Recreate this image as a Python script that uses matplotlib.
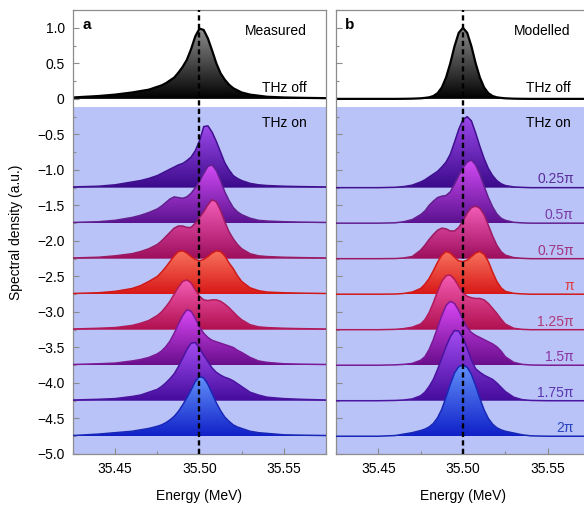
import numpy as np
import matplotlib
matplotlib.use("Agg")
import matplotlib.pyplot as plt
from matplotlib.colors import LinearSegmentedColormap
from matplotlib.patches import Polygon
from matplotlib.ticker import MultipleLocator

plt.rcParams['font.family'] = ['Liberation Sans', 'DejaVu Sans']

# ---------------- data ----------------
energy = [35.425, 35.44, 35.45, 35.46, 35.465, 35.47,
          35.475, 35.4775, 35.48, 35.4825, 35.485, 35.4875, 35.49, 35.4925, 35.495, 35.4975,
          35.50, 35.5025, 35.505, 35.5075, 35.51, 35.5125, 35.515, 35.5175, 35.52, 35.5225, 35.525,
          35.53, 35.535, 35.54, 35.55, 35.56, 35.575]

phase_labels = ['0.25π', '0.5π', '0.75π', 'π', '1.25π', '1.5π', '1.75π', '2π']
offsets_on = [-1.25, -1.75, -2.25, -2.75, -3.25, -3.75, -4.25, -4.75]

measured_off = [0.02, 0.04, 0.06, 0.09, 0.11, 0.13,
                0.17, 0.19, 0.22, 0.26, 0.30, 0.37, 0.45, 0.55, 0.70, 0.88,
                0.99, 0.97, 0.85, 0.68, 0.50, 0.36, 0.27, 0.20, 0.15, 0.12, 0.09,
                0.06, 0.045, 0.03, 0.02, 0.015, 0.01]
measured_025 = [0.01, 0.02, 0.04, 0.08, 0.10, 0.13,
                0.17, 0.20, 0.23, 0.26, 0.29, 0.32, 0.34, 0.38, 0.43, 0.52,
                0.66, 0.86, 0.87, 0.78, 0.65, 0.50, 0.35, 0.25, 0.17, 0.13, 0.10,
                0.06, 0.04, 0.03, 0.02, 0.015, 0.01]
measured_050 = [0.01, 0.02, 0.04, 0.08, 0.11, 0.15,
                0.20, 0.24, 0.29, 0.34, 0.37, 0.36, 0.35, 0.37, 0.42, 0.50,
                0.59, 0.70, 0.80, 0.82, 0.74, 0.60, 0.44, 0.32, 0.22, 0.16, 0.12,
                0.07, 0.04, 0.03, 0.02, 0.015, 0.01]
measured_075 = [0.01, 0.02, 0.04, 0.07, 0.10, 0.14,
                0.20, 0.25, 0.31, 0.37, 0.43, 0.46, 0.46, 0.44, 0.44, 0.50,
                0.58, 0.66, 0.76, 0.83, 0.80, 0.68, 0.52, 0.38, 0.28, 0.20, 0.14,
                0.07, 0.04, 0.03, 0.02, 0.015, 0.01]
measured_100 = [0.01, 0.02, 0.04, 0.08, 0.12, 0.18,
                0.25, 0.31, 0.38, 0.46, 0.54, 0.60, 0.61, 0.58, 0.53, 0.49,
                0.47, 0.49, 0.53, 0.58, 0.61, 0.60, 0.54, 0.44, 0.36, 0.26, 0.18,
                0.09, 0.05, 0.03, 0.02, 0.015, 0.01]
measured_125 = [0.01, 0.02, 0.03, 0.06, 0.09, 0.13,
                0.20, 0.25, 0.32, 0.40, 0.50, 0.60, 0.68, 0.70, 0.66, 0.56,
                0.47, 0.42, 0.41, 0.42, 0.42, 0.40, 0.36, 0.31, 0.25, 0.19, 0.14,
                0.07, 0.04, 0.03, 0.02, 0.015, 0.01]
measured_150 = [0.01, 0.02, 0.03, 0.06, 0.08, 0.11,
                0.16, 0.20, 0.26, 0.34, 0.45, 0.58, 0.70, 0.78, 0.76, 0.66,
                0.54, 0.45, 0.39, 0.35, 0.33, 0.31, 0.29, 0.27, 0.25, 0.21, 0.18,
                0.11, 0.06, 0.04, 0.02, 0.015, 0.01]
measured_175 = [0.01, 0.02, 0.03, 0.06, 0.08, 0.12,
                0.16, 0.20, 0.25, 0.31, 0.38, 0.48, 0.60, 0.72, 0.81, 0.82,
                0.74, 0.64, 0.55, 0.46, 0.40, 0.36, 0.33, 0.31, 0.28, 0.24, 0.20,
                0.12, 0.08, 0.05, 0.03, 0.02, 0.01]
measured_200 = [0.01, 0.03, 0.05, 0.07, 0.09, 0.11,
                0.14, 0.16, 0.19, 0.23, 0.28, 0.35, 0.44, 0.54, 0.65, 0.77,
                0.84, 0.82, 0.73, 0.60, 0.47, 0.36, 0.27, 0.21, 0.16, 0.13, 0.11,
                0.07, 0.05, 0.04, 0.02, 0.015, 0.01]

modelled_off = [0, 0, 0, 0, 0.001, 0.003,
                0.008, 0.014, 0.022, 0.04, 0.08, 0.16, 0.30, 0.50, 0.74, 0.93,
                1.0, 0.93, 0.74, 0.50, 0.30, 0.16, 0.08, 0.04, 0.022, 0.014, 0.008,
                0.003, 0.001, 0, 0, 0, 0]
modelled_025 = [0, 0, 0, 0.005, 0.015, 0.035,
                0.08, 0.11, 0.15, 0.19, 0.23, 0.29, 0.36, 0.47, 0.64, 0.82,
                0.96, 1.0, 0.94, 0.77, 0.58, 0.41, 0.27, 0.17, 0.10, 0.055, 0.03,
                0.01, 0.004, 0, 0, 0, 0]
modelled_050 = [0, 0, 0, 0.005, 0.02, 0.05,
                0.12, 0.17, 0.25, 0.31, 0.36, 0.38, 0.39, 0.44, 0.55, 0.67,
                0.78, 0.86, 0.89, 0.82, 0.69, 0.52, 0.36, 0.23, 0.13, 0.07, 0.04,
                0.012, 0.004, 0, 0, 0, 0]
modelled_075 = [0, 0, 0, 0.002, 0.01, 0.03,
                0.12, 0.19, 0.27, 0.34, 0.40, 0.43, 0.42, 0.39, 0.39, 0.44,
                0.53, 0.64, 0.72, 0.74, 0.71, 0.62, 0.47, 0.32, 0.19, 0.10, 0.05,
                0.015, 0.005, 0, 0, 0, 0]
modelled_100 = [0, 0, 0, 0.002, 0.01, 0.03,
                0.08, 0.14, 0.22, 0.33, 0.45, 0.55, 0.60, 0.58, 0.52, 0.47,
                0.46, 0.48, 0.53, 0.58, 0.60, 0.56, 0.46, 0.31, 0.18, 0.09, 0.04,
                0.012, 0.004, 0, 0, 0, 0]
modelled_125 = [0, 0, 0, 0.005, 0.015, 0.035,
                0.08, 0.14, 0.24, 0.38, 0.54, 0.68, 0.76, 0.77, 0.71, 0.61,
                0.52, 0.47, 0.45, 0.44, 0.44, 0.42, 0.37, 0.30, 0.23, 0.15, 0.08,
                0.02, 0.005, 0, 0, 0, 0]
modelled_150 = [0, 0, 0, 0.005, 0.012, 0.025,
                0.07, 0.12, 0.22, 0.36, 0.53, 0.70, 0.84, 0.90, 0.87, 0.77,
                0.64, 0.53, 0.46, 0.42, 0.39, 0.36, 0.33, 0.30, 0.26, 0.20, 0.12,
                0.04, 0.012, 0.003, 0, 0, 0]
modelled_175 = [0, 0, 0, 0.004, 0.01, 0.025,
                0.07, 0.12, 0.20, 0.30, 0.44, 0.60, 0.76, 0.90, 0.99, 0.98,
                0.88, 0.74, 0.57, 0.45, 0.40, 0.36, 0.33, 0.30, 0.25, 0.19, 0.13,
                0.05, 0.015, 0.004, 0, 0, 0]
modelled_200 = [0, 0, 0, 0.01, 0.03, 0.05,
                0.08, 0.10, 0.13, 0.18, 0.26, 0.38, 0.55, 0.73, 0.89, 0.98,
                1.0, 0.97, 0.87, 0.71, 0.53, 0.37, 0.25, 0.17, 0.12, 0.09, 0.07,
                0.045, 0.02, 0.006, 0, 0, 0]

measured_on = [measured_025, measured_050, measured_075, measured_100,
               measured_125, measured_150, measured_175, measured_200]
modelled_on = [modelled_025, modelled_050, modelled_075, modelled_100,
               modelled_125, modelled_150, modelled_175, modelled_200]

# ---------------- styles ----------------
off_style = ('#8e8e8e', '#000000', '#000000')
# (top colour, bottom colour, line colour, label colour)
on_styles = [
    ('#9d48ea', '#3a0a8a', '#3f108f', '#5a2d9c'),
    ('#d64cf6', '#5a1290', '#62208f', '#7a3aa8'),
    ('#f45cb8', '#9c0e5c', '#9a1a64', '#a03580'),
    ('#f8735e', '#d81818', '#d01a1a', '#e23b3b'),
    ('#f45cb4', '#b0104e', '#b01a5a', '#b03a78'),
    ('#da48f6', '#6a0e8c', '#7a1a96', '#8a35a5'),
    ('#a44cf2', '#440c9c', '#4a14a0', '#5a35b0'),
    ('#6292fa', '#1020c8', '#1a28b8', '#2b45c0'),
]
blue_bg = '#bac3f7'
spine_c = '#8c8c8c'

fig = plt.figure(figsize=(5.84, 5.05), dpi=100)
axa = fig.add_axes([0.125, 0.101, 0.4332, 0.879])
axb = fig.add_axes([0.5753, 0.101, 0.4349, 0.879])

x = np.array(energy)
XMIN, XMAX = 35.425, 35.575


def trace(ax, vals, base, ctop, cbot, lcol, z, lw=1.1):
    h = np.array(vals, dtype=float)
    y = base + h
    verts = np.vstack([np.column_stack([x, y]), [[x[-1], base], [x[0], base]]])
    poly = Polygon(verts, closed=True, fc='none', ec='none', transform=ax.transData)
    ax.add_patch(poly)
    cmap = LinearSegmentedColormap.from_list('g', [cbot, ctop])
    grad = np.linspace(0, 1, 256).reshape(-1, 1)
    im = ax.imshow(grad, extent=[XMIN, XMAX, base, base + h.max()], origin='lower',
                   aspect='auto', cmap=cmap, zorder=z, interpolation='bilinear')
    im.set_clip_path(poly)
    ax.plot(x, y, color=lcol, lw=lw, zorder=z + 0.05, solid_joinstyle='round')


for ax, off, ons, title, letter in [(axa, measured_off, measured_on, 'Measured', 'a'),
                                    (axb, modelled_off, modelled_on, 'Modelled', 'b')]:
    ax.axhspan(-5.0, -0.115, fc=blue_bg, lw=0, zorder=0.5)
    trace(ax, off, 0.0, off_style[0], off_style[1], off_style[2], 2, lw=1.6)
    for k, (vals, base, st) in enumerate(zip(ons, offsets_on, on_styles)):
        trace(ax, vals, base, st[0], st[1], st[2], 3 + k * 0.2)
    ax.axvline(35.50, color='black', lw=1.7, ls=(0, (2.2, 1.4)), zorder=20)

    ax.set_xlim(XMIN, XMAX)
    ax.set_ylim(-5.0, 1.25)
    ax.set_xticks([35.45, 35.50, 35.55])
    ax.set_xticklabels(['35.45', '35.50', '35.55'])
    ax.xaxis.set_minor_locator(MultipleLocator(0.025))
    yt = np.arange(-5.0, 1.01, 0.5)
    ax.set_yticks(yt)
    ax.yaxis.set_minor_locator(MultipleLocator(0.25))
    ax.tick_params(which='both', direction='in', color=spine_c, width=0.8,
                   labelsize=10, top=False, right=False, pad=6)
    ax.tick_params(which='major', length=4)
    ax.tick_params(which='minor', length=2.5)
    for s in ax.spines.values():
        s.set_color(spine_c)
        s.set_linewidth(0.9)
    ax.set_xlabel('Energy (MeV)', fontsize=10, labelpad=9)

    ax.text(35.4305, 1.04, letter, fontsize=11, fontweight='bold', ha='left', va='center', zorder=30)
    ax.text(35.5635, 0.96, title, fontsize=10, ha='right', va='center', zorder=30)
    ax.text(35.5635, 0.15, 'THz off', fontsize=10, ha='right', va='center', zorder=30)
    ax.text(35.5635, -0.34, 'THz on', fontsize=10, ha='right', va='center', zorder=30)

ylabels = ['0' if abs(v) < 1e-9 else f'{v:.1f}'.replace('-', '\u2212') for v in yt]
axa.set_yticklabels(ylabels)
axb.set_yticklabels([])
axa.set_ylabel('Spectral density (a.u.)', fontsize=10, labelpad=10)

for base, st, lab in zip(offsets_on, on_styles, phase_labels):
    axb.text(35.5655, base + 0.115, lab, color=st[3], fontsize=10, ha='right', va='center', zorder=30)

fig.savefig('out.png', dpi=100)
